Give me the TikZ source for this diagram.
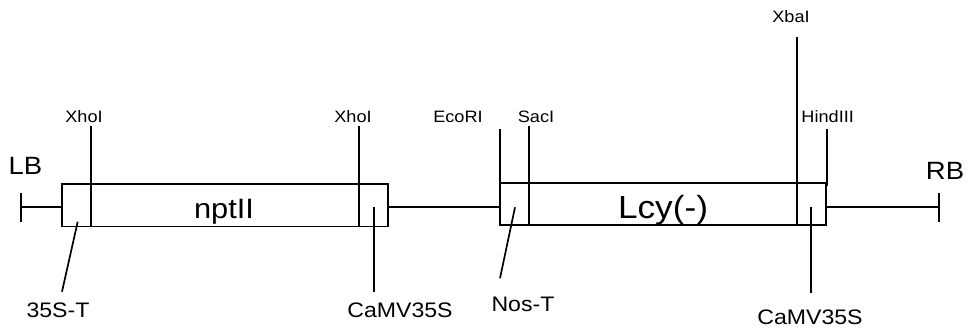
\documentclass[tikz,border=0pt]{standalone}
\usepackage{fontspec}
\newfontfamily\geneFont[FakeStretch=1.1]{Liberation Sans}
\usetikzlibrary{positioning}
\tikzset{
myCassette/.style={
	rectangle,draw,line width=1.7pt,
	inner sep=0pt,outer sep=0pt,minimum height=42pt
}
, myGene/.style={
	anchor=base,inner sep=0pt,
	font=\geneFont\fontsize{28}{32}\selectfont
}
, mySite/.style={anchor=base,inner sep=0pt,font=\geneFont\fontsize{16.5}{19}\selectfont}
, myPart/.style={anchor=base,inner sep=0pt,font=\geneFont\fontsize{21}{24}\selectfont}
, myBorder/.style={anchor=base,inner sep=0pt,font=\geneFont\fontsize{25}{29}\selectfont}
% link
, myLine/.style={line width=1.7pt}
}

\begin{document}
\begin{tikzpicture}[x=1pt,y=-1pt]
	\useasboundingbox (0,0) rectangle (973,333);
	% cassettes
	\node[myCassette,minimum width=326pt,minimum height=42.5pt] (Npt) at (225,205.2) {};
	\node[myCassette,minimum width=325.4pt] (Lcy) at (663,204) {};
	\node[myGene] (NptName) at (224,218.3) {nptII};
	\node[myGene,font=\geneFont\fontsize{32}{36}\selectfont] (LcyName) at (663,218.3) {Lcy(-)};

	% borders
	\node[myBorder] (LB) at (25.5,174) {LB};
	\node[myBorder] (RB) at (945,179.5) {RB};
	\coordinate (LBtop) at (20.7,193);
	\coordinate (LBbot) at (20.7,222);
	\coordinate (LBmid) at (20.7,207);
	\coordinate (RBtop) at (938.7,193);
	\coordinate (RBbot) at (938.7,222);
	\coordinate (RBmid) at (938.7,207.3);
	\draw[myLine] (LBtop) -- (LBbot);
	\draw[myLine] (RBtop) -- (RBbot);
	\draw[myLine] (LBmid) -- (LBmid -| Npt.west);
	\draw[myLine] (Npt.east |- LBmid) -- (Lcy.west |- LBmid);
	\draw[myLine] (RBmid) -- (RBmid -| Lcy.east);

	% restriction sites
	\node[mySite] (XhoA) at (84,122) {XhoI};
	\node[mySite] (XhoB) at (353,122) {XhoI};
	\node[mySite] (Eco) at (458,122.3) {EcoRI};
	\node[mySite] (Sac) at (536,122) {SacI};
	\node[mySite] (Xba) at (791,22.7) {XbaI};
	\node[mySite] (Hind) at (827.7,122.7) {HindIII};
	\coordinate (XhoAcut) at (90.7,125.5);
	\coordinate (XhoBcut) at (359.3,125.5);
	\coordinate (EcoCut) at (500.3,129.3);
	\coordinate (SacCut) at (529,125.7);
	\coordinate (XbaCut) at (797.3,37.3);
	\coordinate (HindCut) at (827.3,129.3);
	\coordinate (HindEnd) at (827.3,186);
	\draw[myLine] (XhoAcut) -- (XhoAcut |- Npt.south);
	\draw[myLine] (XhoBcut) -- (XhoBcut |- Npt.south);
	\draw[myLine] (EcoCut) -- (Lcy.north west);
	\draw[myLine] (SacCut) -- (SacCut |- Lcy.south);
	\draw[myLine] (XbaCut) -- (XbaCut |- Lcy.south);
	\draw[myLine] (HindCut) -- (HindEnd);

	% parts
	\node[myPart] (Ter35S) at (58,317) {35S-T};
	\node[myPart] (ProA) at (400,317) {CaMV35S};
	\node[myPart] (TerNos) at (523,311.5) {Nos-T};
	\node[myPart] (ProB) at (810,324) {CaMV35S};
	\coordinate (Ter35Sin) at (77.7,221.7);
	\coordinate (Ter35Sout) at (62,291.7);
	\coordinate (ProAin) at (374,206.7);
	\coordinate (ProAout) at (374,291.7);
	\coordinate (TerNosIn) at (515,207.3);
	\coordinate (TerNosOut) at (500,278.3);
	\coordinate (ProBin) at (811,206.7);
	\coordinate (ProBout) at (811,292.7);
	\draw[myLine] (Ter35Sin) -- (Ter35Sout);
	\draw[myLine] (ProAin) -- (ProAout);
	\draw[myLine] (TerNosIn) -- (TerNosOut);
	\draw[myLine] (ProBin) -- (ProBout);
\end{tikzpicture}
\end{document}
